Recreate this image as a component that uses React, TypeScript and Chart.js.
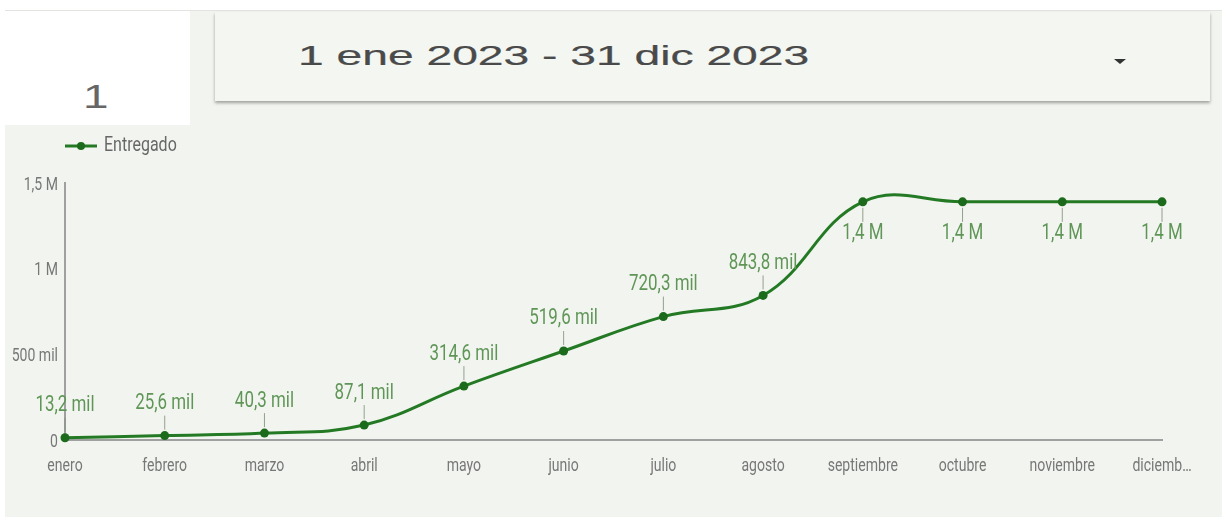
import React, { useEffect, useRef } from "react";
import { Chart, registerables } from "chart.js";

Chart.register(...registerables);

const categories = [
  "enero", "febrero", "marzo", "abril", "mayo", "junio",
  "julio", "agosto", "septiembre", "octubre", "noviembre", "diciembre",
];
const entregado = [
  13200, 25600, 40300, 87100, 314600, 519600,
  720300, 843800, 1390000, 1390000, 1390000, 1390000,
];
const seriesName = "Entregado";
const yTicks = [0, 500000, 1000000, 1500000];
const dateRange = "1 ene 2023 - 31 dic 2023";
const scoreValue = "1";

const FONT = "Roboto, 'Noto Sans', sans-serif";
const SX = 0.78;
const LINE = "#247a24";
const POINT = "#1c6a1c";
const LABEL = "#5f9657";
const TICK = "#777777";
const AXIS = "#a0a0a0";

function fmt(v: number): string {
  if (v === 0) return "0";
  if (Math.abs(v) >= 1e6) return (v / 1e6).toFixed(1).replace(".", ",").replace(/,0$/, "") + " M";
  if (Math.abs(v) >= 1e3) return (v / 1e3).toFixed(1).replace(".", ",").replace(/,0$/, "") + " mil";
  return String(v);
}

function catLabel(i: number): string {
  const s = categories[i];
  return i === categories.length - 1 && s.length > 7 ? s.slice(0, 7) + "…" : s;
}

function drawText(
  ctx: CanvasRenderingContext2D,
  text: string,
  x: number,
  y: number,
  size: number,
  color: string,
  align: "left" | "center" | "right",
  sx: number = SX
) {
  ctx.save();
  ctx.font = `${size}px ${FONT}`;
  ctx.fillStyle = color;
  ctx.textBaseline = "middle";
  ctx.textAlign = "left";
  const w = ctx.measureText(text).width * sx;
  const left = align === "center" ? x - w / 2 : align === "right" ? x - w : x;
  ctx.translate(left, y);
  ctx.scale(sx, 1);
  ctx.fillText(text, 0, 0);
  ctx.restore();
}

const labelPlugin = {
  id: "pointLabels",
  afterDatasetsDraw(chart: any) {
    const ctx = chart.ctx;
    const meta = chart.getDatasetMeta(0);
    const ds = chart.data.datasets[0];
    ctx.save();
    meta.data.forEach((pt: any, i: number) => {
      const v = ds.data[i] as number;
      const below = v > 1200000;
      const dir = below ? 1 : -1;
      ctx.strokeStyle = "rgba(130,145,125,0.85)";
      ctx.lineWidth = 1;
      ctx.beginPath();
      ctx.moveTo(pt.x, pt.y + dir * 6);
      ctx.lineTo(pt.x, pt.y + dir * 20);
      ctx.stroke();
      drawText(ctx, fmt(v), pt.x, pt.y + dir * 32, 22, LABEL, "center", 0.77);
    });
    ctx.restore();
  },
  afterDraw(chart: any) {
    const ctx = chart.ctx;
    const xs = chart.scales.x;
    const ys = chart.scales.y;
    xs.ticks.forEach((_t: any, i: number) => {
      const px = xs.getPixelForTick(i);
      drawText(ctx, catLabel(i), px, xs.top + 26, 18, TICK, "center");
    });
    ys.ticks.forEach((t: any, i: number) => {
      const py = ys.getPixelForTick(i);
      drawText(ctx, fmt(t.value), ys.right - 7, py + 2, 18, TICK, "right");
    });
    const y = 21;
    ctx.save();
    ctx.strokeStyle = LINE;
    ctx.lineWidth = 3;
    ctx.beginPath();
    ctx.moveTo(65, y);
    ctx.lineTo(97, y);
    ctx.stroke();
    ctx.fillStyle = POINT;
    ctx.beginPath();
    ctx.arc(81, y, 4, 0, Math.PI * 2);
    ctx.fill();
    ctx.restore();
    drawText(ctx, seriesName, 104, y, 20, "#676767", "left", 0.8);
  },
};

export default function App() {
  const ref = useRef<HTMLCanvasElement | null>(null);

  useEffect(() => {
    if (!ref.current) return;
    const chart = new Chart(ref.current, {
      type: "line",
      data: {
        labels: categories,
        datasets: [
          {
            label: seriesName,
            data: entregado,
            borderColor: LINE,
            backgroundColor: POINT,
            borderWidth: 3,
            pointRadius: 4.5,
            pointBackgroundColor: POINT,
            pointBorderWidth: 0,
            tension: 0.4,
            fill: false,
            clip: false as any,
          },
        ],
      },
      options: {
        animation: false,
        responsive: false,
        devicePixelRatio: 1,
        layout: { padding: { left: 0, right: 60, top: 58, bottom: 0 } },
        plugins: { legend: { display: false }, tooltip: { enabled: false } },
        scales: {
          x: {
            offset: false,
            grid: { display: false },
            border: { display: true, color: AXIS, width: 2 },
            ticks: { display: false, autoSkip: false, maxRotation: 0 },
            afterFit: (s: any) => {
              s.height = 77;
            },
          },
          y: {
            min: yTicks[0],
            max: yTicks[yTicks.length - 1],
            grid: { display: false },
            border: { display: true, color: AXIS, width: 2 },
            afterBuildTicks: (s: any) => {
              s.ticks = yTicks.map((v) => ({ value: v }));
            },
            ticks: { display: false },
            afterFit: (s: any) => {
              s.width = 65;
            },
          },
        },
      },
      plugins: [labelPlugin],
    });
    return () => chart.destroy();
  }, []);

  return (
    <div
      style={{
        position: "absolute",
        left: 0,
        top: 0,
        width: 1222,
        height: 517,
        background: "#ffffff",
        overflow: "hidden",
        fontFamily: "'Liberation Sans', Arial, sans-serif",
      }}
    >
      <div
        style={{
          position: "absolute",
          left: 5,
          top: 10,
          width: 1217,
          height: 507,
          background: "#f2f5ef",
          borderTop: "1px solid #e2e4e0",
        }}
      />
      <div
        style={{
          position: "absolute",
          left: 5,
          top: 11,
          width: 185,
          height: 114,
          background: "#ffffff",
        }}
      />
      <div
        style={{
          position: "absolute",
          left: 83,
          top: 76,
          fontSize: 34,
          lineHeight: "40px",
          color: "#666666",
          transform: "scaleX(1.35)",
          transformOrigin: "left top",
        }}
      >
        {scoreValue}
      </div>
      <div
        style={{
          position: "absolute",
          left: 215,
          top: 12,
          width: 995,
          height: 89,
          background: "#f3f6f1",
          boxShadow: "0 2px 3px rgba(0,0,0,0.35)",
        }}
      >
        <div
          style={{
            position: "absolute",
            left: 83,
            top: 26,
            fontSize: 28,
            lineHeight: "36px",
            color: "#4a4a4a",
            WebkitTextStroke: "0.2px #4a4a4a",
            whiteSpace: "nowrap",
            transform: "scaleX(1.65)",
            transformOrigin: "left top",
          }}
        >
          {dateRange}
        </div>
        <div
          style={{
            position: "absolute",
            left: 899,
            top: 47,
            width: 0,
            height: 0,
            borderLeft: "6px solid transparent",
            borderRight: "6px solid transparent",
            borderTop: "5px solid #333",
          }}
        />
      </div>
      <canvas
        ref={ref}
        width={1222}
        height={392}
        style={{ position: "absolute", left: 0, top: 125, width: 1222, height: 392 }}
      />
    </div>
  );
}
